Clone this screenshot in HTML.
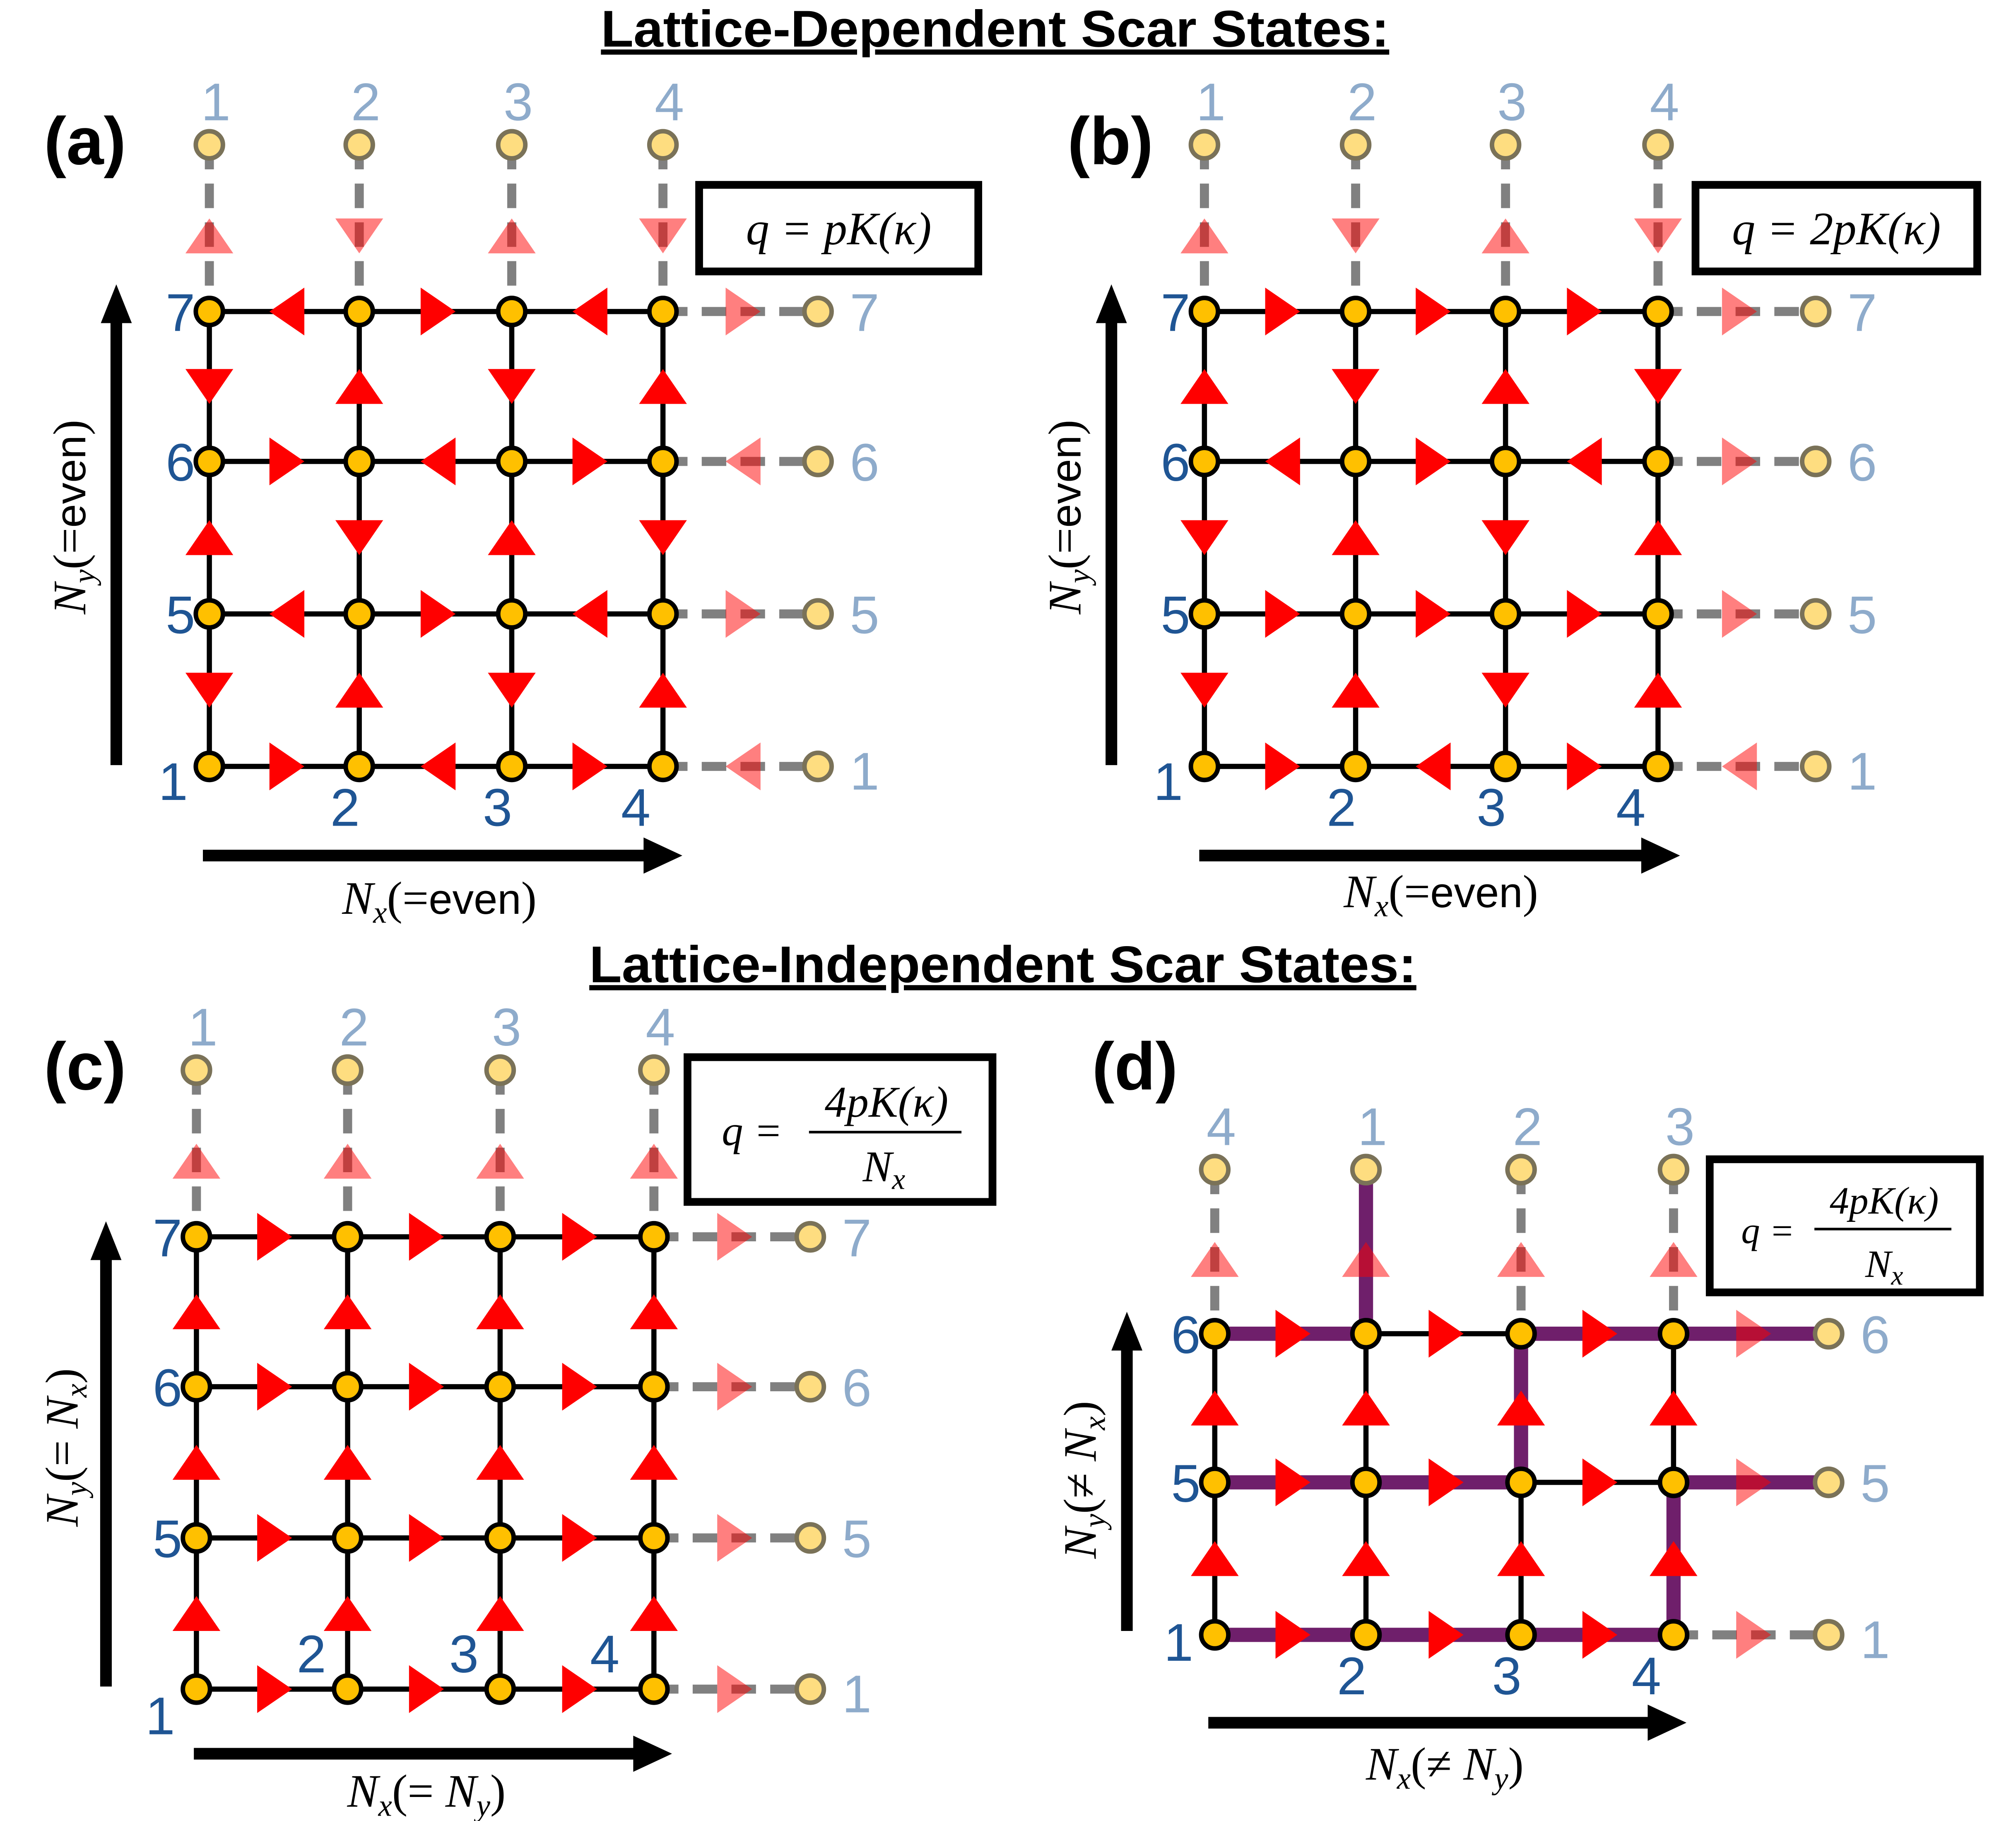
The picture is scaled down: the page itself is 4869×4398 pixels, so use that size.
<!DOCTYPE html>
<html><head><meta charset="utf-8">
<style>
html,body{margin:0;padding:0;background:#fff;}
svg{display:block;}
</style></head>
<body>
<svg id="fig" width="4869" height="4398" viewBox="0 0 1560 1409" xmlns="http://www.w3.org/2000/svg">
<rect x="0" y="0" width="1560" height="1409" fill="#fff"/>
<text x="770" y="36" text-anchor="middle" font-family="Liberation Sans,sans-serif" font-weight="bold" font-size="40" text-decoration="underline" textLength="610" lengthAdjust="spacingAndGlyphs">Lattice-Dependent Scar States:</text>
<text x="776" y="760" text-anchor="middle" font-family="Liberation Sans,sans-serif" font-weight="bold" font-size="40" text-decoration="underline" textLength="640" lengthAdjust="spacingAndGlyphs">Lattice-Independent Scar States:</text>
<g id="panels"></g>
</svg>
<script>
// Directions: R/L horizontal, U/D vertical. Rows listed top-to-bottom, columns left-to-right.
const rowsA = [["L","R","L","R"],["R","L","R","L"],["L","R","L","R"],["R","L","R","L"]];
const ghostTopA = ["U","D","U","D"];
const vertA = [["D","U","D","U"],["U","D","U","D"],["D","U","D","U"]];
const rowsB = [["R","R","R","R"],["L","R","L","R"],["R","R","R","R"],["R","L","R","L"]];
const ghostTopB = ["U","D","U","D"];
const vertB = [["U","D","U","D"],["D","U","D","U"],["D","U","D","U"]];
const rowsC = [["R","R","R","R"],["R","R","R","R"],["R","R","R","R"],["R","R","R","R"]];
const ghostTopC = ["U","U","U","U"];
const vertC = [["U","U","U","U"],["U","U","U","U"],["U","U","U","U"]];
const rowsD = [["R","R","R","R"],["R","R","R","R"],["R","R","R","R"]];
const ghostTopD = ["U","U","U","U"];
const vertD = [["U","U","U","U"],["U","U","U","U"]];

const NS = "http://www.w3.org/2000/svg";
const root = document.getElementById("panels");
function el(tag, attrs, parent){
  const e = document.createElementNS(NS, tag);
  for (const k in attrs) e.setAttribute(k, attrs[k]);
  (parent||root).appendChild(e);
  return e;
}
function tri(g, cx, cy, dir, faded){
  const L = 13.5, B = 18.5;
  let pts;
  if (dir==="R") pts=[[cx-L,cy-B],[cx-L,cy+B],[cx+L,cy]];
  if (dir==="L") pts=[[cx+L,cy-B],[cx+L,cy+B],[cx-L,cy]];
  if (dir==="U") pts=[[cx-B,cy+L],[cx+B,cy+L],[cx,cy-L]];
  if (dir==="D") pts=[[cx-B,cy-L],[cx+B,cy-L],[cx,cy+L]];
  const p = el("polygon",{points:pts.map(a=>a.join(",")).join(" "),fill:faded?"rgba(255,0,0,0.5)":"#ff0000"},g);
  
  
}
function txt(g, x, y, s, fill, size, anchor){
  const t = el("text",{x:x,y:y,fill:fill,"font-family":"Liberation Sans,sans-serif","font-size":size||41,"text-anchor":anchor||"middle"},g);
  t.textContent = s;
  return t;
}
const DARK="#1f5594", LIGHT="#8eabcb", PURP="#6f1f6b";

function panel(cfg){
  const g = el("g",{});
  
  
  const xs=cfg.xs, ys=cfg.ys, nr=ys.length, nc=xs.length;
  for (let c=0;c<nc;c++){
    if (cfg.solidTop && cfg.solidTop[c]) continue;
    const l = el("line",{x1:xs[c],y1:cfg.gy,x2:xs[c],y2:ys[0],stroke:"#808080","stroke-width":7,"stroke-dasharray":"19 11"},g);
    
    
  }
  for (let r=0;r<nr;r++){
    if (cfg.solidRight && cfg.solidRight[r]) continue;
    const l = el("line",{x1:xs[nc-1],y1:ys[r],x2:cfg.gx,y2:ys[r],stroke:"#808080","stroke-width":7,"stroke-dasharray":"19 11"},g);
    
    
  }
  for (let r=0;r<nr;r++){
    const l = el("line",{x1:xs[0],y1:ys[r],x2:xs[nc-1],y2:ys[r],stroke:"#000","stroke-width":4},g);
    
    
  }
  for (let c=0;c<nc;c++){
    const l = el("line",{x1:xs[c],y1:ys[0],x2:xs[c],y2:ys[nr-1],stroke:"#000","stroke-width":4},g);
    
    
  }
  (cfg.purple||[]).forEach(s=>{
    const l = el("line",{x1:s[0],y1:s[1],x2:s[2],y2:s[3],stroke:PURP,"stroke-width":11,"stroke-linecap":"square"},g);
    
    
  });
  for (let r=0;r<nr;r++){
    for (let c=0;c<nc;c++){
      const x2 = c<nc-1 ? xs[c+1] : cfg.gx;
      tri(g,(xs[c]+x2)/2+2,ys[r],cfg.rows[r][c],c===nc-1);
    }
  }
  for (let c=0;c<nc;c++){
    tri(g,xs[c],(cfg.gy+ys[0])/2+6,cfg.gtop[c],true);
    for (let r=0;r<nr-1;r++) tri(g,xs[c],(ys[r]+ys[r+1])/2,cfg.vert[r][c],false);
  }
  for (let c=0;c<nc;c++){
    const n = el("circle",{cx:xs[c],cy:cfg.gy,r:10.5,fill:"#fedd80",stroke:"#7a7258","stroke-width":3.5},g);
    
    
  }
  for (let r=0;r<nr;r++){
    const n = el("circle",{cx:cfg.gx,cy:ys[r],r:10.5,fill:"#fedd80",stroke:"#7a7258","stroke-width":3.5},g);
    
    
  }
  for (let r=0;r<nr;r++) for (let c=0;c<nc;c++){
    const n = el("circle",{cx:xs[c],cy:ys[r],r:10.5,fill:"#ffc000",stroke:"#000","stroke-width":3.5},g);
    
    
  }
  cfg.topLabels.forEach((s,c)=>{ const t=txt(g,xs[c]+5,cfg.gy-19,s,LIGHT);   });
  cfg.rowLabels.forEach((s,r)=>{
    const t = txt(g,cfg.gx+36,ys[r]+15+(r===nr-1?3:0),s,LIGHT);  
    if (r<nr-1){ const u=txt(g,xs[0]-11,ys[r]+15,s,DARK,41,"end");   }
  });
  const one = txt(g,xs[0]-28,ys[nr-1]+cfg.oneDy,"1",DARK);  
  for (let c=1;c<nc;c++){ const t=txt(g,xs[c]+cfg.botDx-(c===nc-1?10:0),ys[nr-1]+cfg.botDy,String(c+1),DARK);   }
  const va = cfg.vax;
  el("line",{x1:va[0],y1:va[1],x2:va[0],y2:va[2]+28,stroke:"#000","stroke-width":9},g);
  const vh = el("polygon",{points:`${va[0]-12},${va[2]+30} ${va[0]+12},${va[2]+30} ${va[0]},${va[2]}`,fill:"#000"},g);
   
  const ha = cfg.hax;
  el("line",{x1:ha[1],y1:ha[0],x2:ha[2]-28,y2:ha[0],stroke:"#000","stroke-width":9},g);
  const hh = el("polygon",{points:`${ha[2]-30},${ha[0]-14} ${ha[2]-30},${ha[0]+14} ${ha[2]},${ha[0]}`,fill:"#000"},g);
   
  const xt = el("text",{x:cfg.xt[0],y:cfg.xt[1],"text-anchor":"middle","font-size":36,"font-family":"Liberation Serif,serif"},g);
  xt.innerHTML = cfg.xtHTML;
   
  const yt = el("text",{x:0,y:0,"text-anchor":"middle","font-size":36,"font-family":"Liberation Serif,serif",transform:`translate(${cfg.yt[0]},${cfg.yt[1]}) rotate(-90)`},g);
  yt.innerHTML = cfg.ytHTML;
   
  const pl = el("text",{x:cfg.pl[0],y:cfg.pl[1],"font-family":"Liberation Sans,sans-serif","font-weight":"bold","font-size":52},g);
  pl.textContent = "("+cfg.id+")";
   
  const b = cfg.box;
  const br = el("rect",{x:b[0],y:b[1],width:b[2],height:b[3],fill:"#fff",stroke:"#000","stroke-width":6},g);
   
  const fg = el("g",{"font-family":"Liberation Serif,serif","font-style":"italic"},g);
   
  fg.innerHTML = cfg.formula;
}

const sans = '<tspan font-family="Liberation Sans,sans-serif" font-style="normal" font-size="33">';
panel({id:"a",xs:[162,278,396,513],ys:[241,357,475,593],gy:112,gx:633,rows:rowsA,gtop:ghostTopA,vert:vertA,
  topLabels:["1","2","3","4"],rowLabels:["7","6","5","1"],oneDy:26,botDx:-11,botDy:46,
  vax:[90,592,220],hax:[662,157,528],xt:[340,707],yt:[66,400],
  xtHTML:'<tspan font-style="italic">N</tspan><tspan font-style="italic" font-size="24" dy="7">x</tspan><tspan dy="-7">(=</tspan>'+sans+'even</tspan>)',
  ytHTML:'<tspan font-style="italic">N</tspan><tspan font-style="italic" font-size="24" dy="7">y</tspan><tspan dy="-7">(=</tspan>'+sans+'even</tspan>)',
  pl:[34,127],box:[541,143,216,67],
  formula:'<text x="649" y="189" text-anchor="middle" font-size="36">q = pK(κ)</text>'});
panel({id:"b",xs:[932,1049,1165,1283],ys:[241,357,475,593],gy:112,gx:1405,rows:rowsB,gtop:ghostTopB,vert:vertB,
  topLabels:["1","2","3","4"],rowLabels:["7","6","5","1"],oneDy:26,botDx:-11,botDy:46,
  vax:[860,592,220],hax:[662,928,1300],xt:[1115,702],yt:[836,400],
  xtHTML:'<tspan font-style="italic">N</tspan><tspan font-style="italic" font-size="24" dy="7">x</tspan><tspan dy="-7">(=</tspan>'+sans+'even</tspan>)',
  ytHTML:'<tspan font-style="italic">N</tspan><tspan font-style="italic" font-size="24" dy="7">y</tspan><tspan dy="-7">(=</tspan>'+sans+'even</tspan>)',
  pl:[826,127],box:[1312,143,218,67],
  formula:'<text x="1421" y="189" text-anchor="middle" font-size="36">q = 2pK(κ)</text>'});
panel({id:"c",xs:[152,269,387,506],ys:[957,1073,1190,1307],gy:828,gx:627,rows:rowsC,gtop:ghostTopC,vert:vertC,
  topLabels:["1","2","3","4"],rowLabels:["7","6","5","1"],oneDy:35,botDx:-28,botDy:-13,
  vax:[82,1305,945],hax:[1357,150,520],xt:[330,1398],yt:[60,1120],
  xtHTML:'<tspan font-style="italic">N</tspan><tspan font-style="italic" font-size="24" dy="7">x</tspan><tspan dy="-7">(= </tspan><tspan font-style="italic">N</tspan><tspan font-style="italic" font-size="24" dy="7">y</tspan><tspan dy="-7">)</tspan>',
  ytHTML:'<tspan font-style="italic">N</tspan><tspan font-style="italic" font-size="24" dy="7">y</tspan><tspan dy="-7">(= </tspan><tspan font-style="italic">N</tspan><tspan font-style="italic" font-size="24" dy="7">x</tspan><tspan dy="-7">)</tspan>',
  pl:[34,843],box:[532,818,236,112],
  formula:'<text x="582" y="886" text-anchor="middle" font-size="33">q =</text><text x="686" y="864" text-anchor="middle" font-size="34">4pK(κ)</text><line x1="626" y1="876" x2="744" y2="876" stroke="#000" stroke-width="2"/><text x="684" y="914" text-anchor="middle" font-size="34">N<tspan font-size="23" dy="6">x</tspan></text>'});
panel({id:"d",xs:[940,1057,1177,1295],ys:[1032,1147,1265],gy:905,gx:1415,rows:rowsD,gtop:ghostTopD,vert:vertD,
  topLabels:["4","1","2","3"],rowLabels:["6","5","1"],oneDy:20,botDx:-11,botDy:46,
  solidTop:[false,true,false,false],solidRight:[true,true,false],
  purple:[[940,1032,1057,1032],[1177,1032,1415,1032],[1057,905,1057,1032],[1177,1032,1177,1147],
          [940,1147,1177,1147],[1295,1147,1415,1147],[1295,1147,1295,1265],[940,1265,1295,1265]],
  vax:[872,1262,1015],hax:[1333,935,1305],xt:[1118,1377],yt:[848,1145],
  xtHTML:'<tspan font-style="italic">N</tspan><tspan font-style="italic" font-size="24" dy="7">x</tspan><tspan dy="-7">(≠ </tspan><tspan font-style="italic">N</tspan><tspan font-style="italic" font-size="24" dy="7">y</tspan><tspan dy="-7">)</tspan>',
  ytHTML:'<tspan font-style="italic">N</tspan><tspan font-style="italic" font-size="24" dy="7">y</tspan><tspan dy="-7">(≠ </tspan><tspan font-style="italic">N</tspan><tspan font-style="italic" font-size="24" dy="7">x</tspan><tspan dy="-7">)</tspan>',
  pl:[845,843],box:[1323,897,209,103],
  formula:'<text x="1368" y="962" text-anchor="middle" font-size="29">q =</text><text x="1458" y="939" text-anchor="middle" font-size="30">4pK(κ)</text><line x1="1404" y1="951" x2="1510" y2="951" stroke="#000" stroke-width="2"/><text x="1458" y="988" text-anchor="middle" font-size="30">N<tspan font-size="21" dy="6">x</tspan></text>'});
</script>
</body></html>
